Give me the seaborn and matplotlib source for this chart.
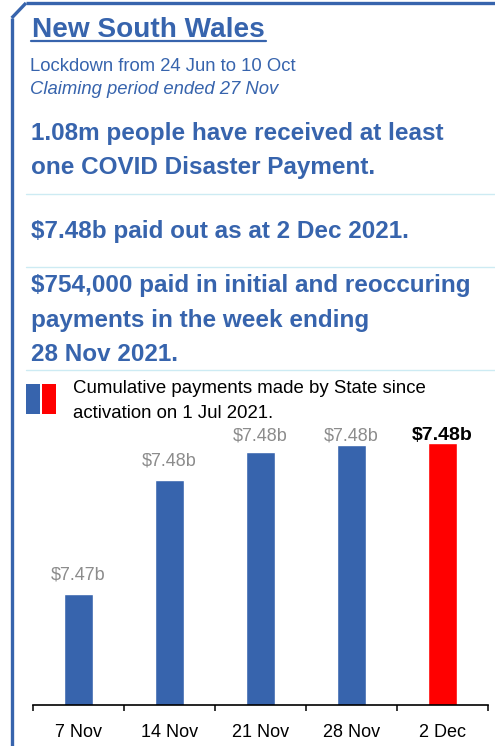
import matplotlib
matplotlib.use("Agg")
import matplotlib.pyplot as plt
from matplotlib.lines import Line2D
from matplotlib.patches import Rectangle
import seaborn as sns
import pandas as pd

# data (cumulative payments, $ millions)
dates = ["7 Nov", "14 Nov", "21 Nov", "28 Nov", "2 Dec"]
paid_m = [7465.8, 7476.5, 7479.1, 7479.8, 7480.0]
value_labels = ["$7.47b", "$7.48b", "$7.48b", "$7.48b", "$7.48b"]
bar_colors = ["#3764AD", "#3764AD", "#3764AD", "#3764AD", "#FF0000"]

BLUE = "#3764AD"
GREY = "#8C8C8C"
RULE = "#CDEBF3"

W, H = 495, 746

sns.set_theme(style="white")
plt.rcParams["font.family"] = ["Liberation Sans", "DejaVu Sans"]

fig = plt.figure(figsize=(W / 100, H / 100), dpi=100)


def fx(px):
    return px / W


def fy(py):
    return 1 - py / H


# frame: top border, cut corner, left border
frame = dict(color=BLUE, lw=2.4, solid_capstyle="butt", transform=fig.transFigure)
fig.add_artist(Line2D([fx(11.7), fx(11.7)], [fy(18), fy(746)], **frame))
fig.add_artist(Line2D([fx(11.7), fx(26)], [fy(18), fy(3)], **frame))
fig.add_artist(Line2D([fx(26), fx(495)], [fy(3), fy(3)], **frame))

# header texts
fig.text(fx(32), fy(37), "New South Wales", color=BLUE, fontsize=20.2,
         fontweight="bold", va="baseline")
fig.add_artist(Line2D([fx(31), fx(266)], [fy(41), fy(41)], color=BLUE, lw=1.6,
                      transform=fig.transFigure))
fig.text(fx(30), fy(71), "Lockdown from 24 Jun to 10 Oct", color=BLUE,
         fontsize=13.3, va="baseline")
fig.text(fx(30), fy(94.5), "Claiming period ended 27 Nov", color=BLUE,
         fontsize=13.3, style="italic", va="baseline")

bold_lines = [
    ("1.08m people have received at least", 140),
    ("one COVID Disaster Payment.", 174),
    ("$7.48b paid out as at 2 Dec 2021.", 237.7),
    ("$754,000 paid in initial and reoccuring", 292.3),
    ("payments in the week ending", 326.7),
    ("28 Nov 2021.", 361),
]
for txt, py in bold_lines:
    fig.text(fx(31), fy(py), txt, color=BLUE, fontsize=17.5, fontweight="bold",
             va="baseline")

for py in [194.3, 267.3, 370]:
    fig.add_artist(Line2D([fx(26), fx(495)], [fy(py), fy(py)], color=RULE, lw=1,
                          transform=fig.transFigure))

# legend swatch and caption
fig.add_artist(Rectangle((fx(26), fy(414.3)), fx(14.3), 30 / H, color=BLUE,
                         transform=fig.transFigure, lw=0))
fig.add_artist(Rectangle((fx(41.7), fy(414.3)), fx(14), 30 / H, color="#FF0000",
                         transform=fig.transFigure, lw=0))
fig.text(fx(73), fy(392.7), "Cumulative payments made by State since",
         color="black", fontsize=13.4, va="baseline")
fig.text(fx(73), fy(418.3), "activation on 1 Jul 2021.", color="black",
         fontsize=13.4, va="baseline")

# bar chart
ax_top, ax_bottom = 430, 705.3
ax = fig.add_axes([fx(33), fy(ax_bottom), fx(455), (ax_bottom - ax_top) / H])

df = pd.DataFrame({"date": dates, "paid": paid_m})
sns.barplot(data=df, x="date", y="paid", hue="date", palette=bar_colors,
            width=0.32, legend=False, saturation=1, ax=ax)

m_per_px = 0.094
y0 = 7455.3
ax.set_ylim(y0, y0 + (ax_bottom - ax_top) * m_per_px)
ax.set_xlim(-0.5, 4.5)

cap = y0 + (ax_bottom - 440) * m_per_px
for i, (v, lab) in enumerate(zip(paid_m, value_labels)):
    last = i == len(paid_m) - 1
    ly = min(v + 14 * m_per_px, cap)
    ax.text(i, ly, lab, ha="center", va="baseline",
            color="black" if last else GREY,
            fontsize=14 if last else 13,
            fontweight="bold" if last else "normal", clip_on=False)

ax.set_xlabel("")
ax.set_ylabel("")
ax.set_yticks([])
for side in ["left", "right", "top"]:
    ax.spines[side].set_visible(False)
ax.spines["bottom"].set_color("black")
ax.spines["bottom"].set_linewidth(1.2)

ax.set_xticks(range(len(dates)))
ax.set_xticklabels(dates)
ax.set_xticks([i - 0.5 for i in range(len(dates) + 1)], minor=True)
ax.tick_params(axis="x", which="major", length=0, pad=13.5, labelsize=13,
               labelcolor="black")
ax.tick_params(axis="x", which="minor", bottom=True, length=4.5, width=1.1,
               color="black", direction="out")

fig.savefig("out.png", dpi=100)
